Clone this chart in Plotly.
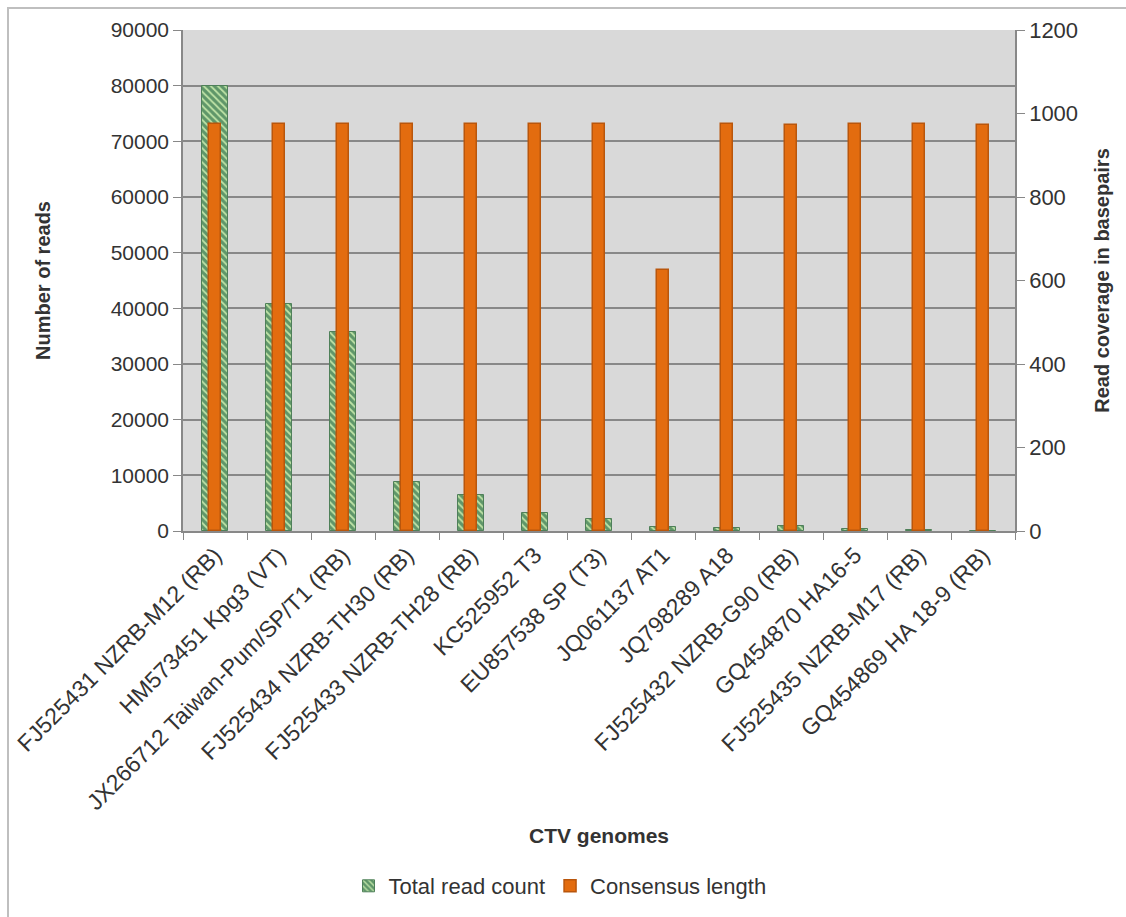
import plotly.graph_objects as go

# CTV genome references
genomes = [
    "FJ525431 NZRB-M12 (RB)",
    "HM573451 Kpg3 (VT)",
    "JX266712 Taiwan-Pum/SP/T1 (RB)",
    "FJ525434 NZRB-TH30 (RB)",
    "FJ525433 NZRB-TH28 (RB)",
    "KC525952 T3",
    "EU857538 SP (T3)",
    "JQ061137 AT1",
    "JQ798289 A18",
    "FJ525432 NZRB-G90 (RB)",
    "GQ454870 HA16-5",
    "FJ525435 NZRB-M17 (RB)",
    "GQ454869 HA 18-9 (RB)",
]

# Number of reads mapped to each genome (left axis)
total_read_count = [80000, 40700, 35800, 8800, 6500, 3200, 2100, 700, 500, 900, 300, 100, 50]

# Consensus length / read coverage in basepairs (right axis)
consensus_length = [975, 975, 975, 975, 975, 975, 975, 625, 975, 972, 975, 975, 973]

left_ticks = [0, 10000, 20000, 30000, 40000, 50000, 60000, 70000, 80000, 90000]
right_ticks = [0, 200, 400, 600, 800, 1000, 1200]

FONT = "Liberation Sans, Arial, sans-serif"
TXT = "#333333"
GRID = "#888888"

fig = go.Figure()

fig.add_trace(go.Bar(
    x=genomes,
    y=total_read_count,
    name="Total read count",
    width=0.42,
    marker=dict(
        color="#5f9669",
        line=dict(color="#4f8059", width=1),
        pattern=dict(shape="\\", fgcolor="#bfe3a6", bgcolor="#5f9669",
                     size=5, solidity=0.35, fillmode="replace"),
    ),
    yaxis="y",
))

fig.add_trace(go.Bar(
    x=genomes,
    y=consensus_length,
    name="Consensus length",
    width=0.19,
    marker=dict(color="#e36c0f", line=dict(color="#b9560c", width=1.5)),
    yaxis="y2",
))

border = dict(
    type="rect", xref="paper", yref="paper",
    x0=(8 - 183) / 832, x1=(1130 - 183) / 832,
    y0=(532 - 925) / 502, y1=(532 - 8) / 502,
    line=dict(color="#bfbfbf", width=2), fillcolor="rgba(0,0,0,0)", layer="below",
)

fig.update_layout(
    width=1126, height=917,
    margin=dict(l=183, r=111, t=30, b=385),
    paper_bgcolor="white",
    plot_bgcolor="#d9d9d9",
    barmode="overlay",
    bargap=0,
    font=dict(family=FONT, size=20, color=TXT),
    shapes=[border],
    showlegend=True,
    legend=dict(
        orientation="h", x=(560 - 183) / 832, xanchor="center",
        y=(532 - 886) / 502, yanchor="middle",
        font=dict(family=FONT, size=22, color=TXT),
        itemwidth=30, traceorder="normal",
        bgcolor="rgba(0,0,0,0)",
    ),
    xaxis=dict(
        tickangle=-45,
        tickfont=dict(family=FONT, size=23, color=TXT),
        showline=True, linecolor=GRID, linewidth=1.5,
        ticks="outside", ticklen=7, tickcolor=GRID, tickson="boundaries",
        showgrid=False,
        title=dict(text="<b>CTV genomes</b>", font=dict(family=FONT, size=21, color=TXT),
                   standoff=14),
        automargin=False,
    ),
    yaxis=dict(
        range=[0, 90000], tickvals=left_ticks, ticktext=[str(v) for v in left_ticks],
        tickfont=dict(family=FONT, size=21, color=TXT),
        showline=True, linecolor=GRID, linewidth=1.5,
        ticks="outside", ticklen=8, tickcolor=GRID,
        showgrid=True, gridcolor=GRID, gridwidth=1.5,
        zeroline=False,
        title=dict(text="<b>Number of reads</b>", font=dict(family=FONT, size=20, color=TXT),
                   standoff=55),
        automargin=False,
    ),
    yaxis2=dict(
        overlaying="y", side="right",
        range=[0, 1200], tickvals=right_ticks, ticktext=[str(v) for v in right_ticks],
        tickfont=dict(family=FONT, size=22, color=TXT),
        showline=True, linecolor=GRID, linewidth=1.5,
        ticks="outside", ticklen=8, tickcolor=GRID,
        showgrid=False, zeroline=False,
        title=dict(text="<b>Read coverage in basepairs</b>",
                   font=dict(family=FONT, size=20, color=TXT), standoff=18),
        automargin=False,
    ),
)

fig.write_html("out.html")
